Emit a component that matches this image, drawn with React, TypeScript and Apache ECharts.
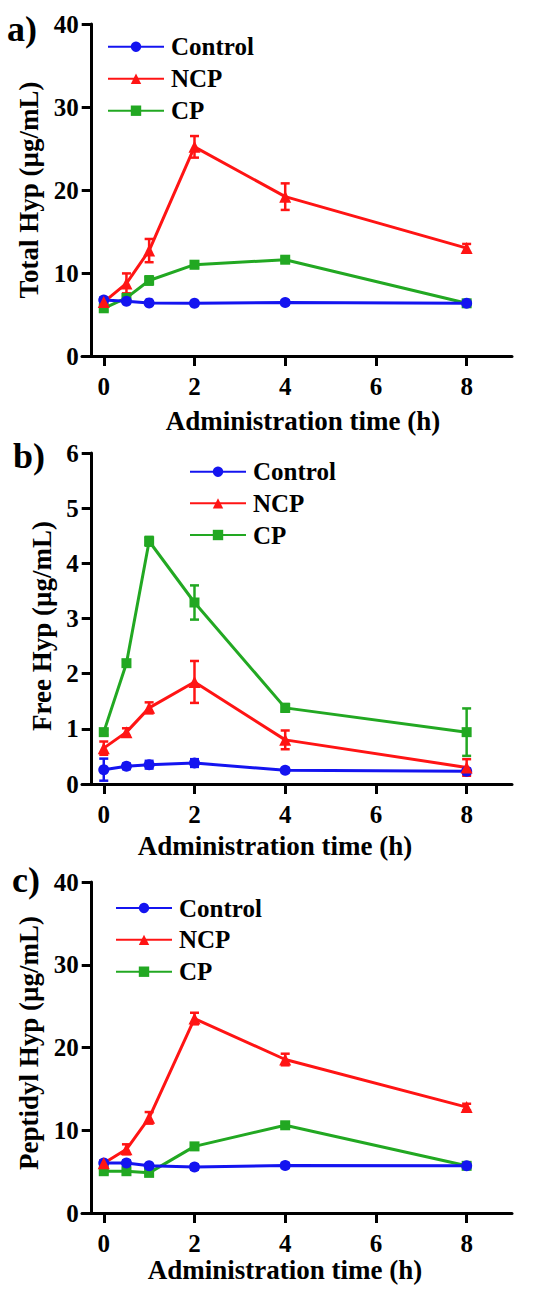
import React, { useEffect, useRef } from "react";
import * as echarts from "echarts";

const times = [0, 0.5, 1, 2, 4, 8];
const xTicks = [0, 2, 4, 6, 8];
const groupNames = ["Control", "NCP", "CP"];
const panelLabels = ["a)", "b)", "c)"];
const yTitles = ["Total Hyp (µg/mL)", "Free Hyp (µg/mL)", "Peptidyl Hyp (µg/mL)"];
const xTitle = "Administration time (h)";
const yMax = [40, 6, 40];
const yStep = [10, 1, 10];

// Total Hyp
const totalControl = [6.75, 6.6, 6.4, 6.35, 6.45, 6.35];
const totalControlErr = [0.3, 0.2, 0.2, 0.2, 0.25, 0.3];
const totalNCP = [6.5, 8.75, 12.7, 25.2, 19.2, 13.0];
const totalNCPErr = [0.3, 1.2, 1.4, 1.3, 1.6, 0.5];
const totalCP = [5.75, 7.0, 9.1, 11.0, 11.6, 6.35];
const totalCPErr = [0.3, 0.3, 0.5, 0.4, 0.3, 0.2];

// Free Hyp
const freeControl = [0.26, 0.32, 0.35, 0.38, 0.25, 0.23];
const freeControlErr = [0.2, 0.05, 0.07, 0.07, 0.04, 0.05];
const freeNCP = [0.65, 0.94, 1.38, 1.85, 0.8, 0.3];
const freeNCPErr = [0.12, 0.07, 0.1, 0.38, 0.17, 0.15];
const freeCP = [0.94, 2.19, 4.4, 3.29, 1.38, 0.94];
const freeCPErr = [0.05, 0.05, 0.08, 0.31, 0.07, 0.43];

// Peptidyl Hyp
const peptControl = [6.05, 6.05, 5.7, 5.55, 5.75, 5.7];
const peptControlErr = [0.3, 0.3, 0.2, 0.3, 0.3, 0.3];
const peptNCP = [6.0, 7.7, 11.5, 23.5, 18.55, 12.8];
const peptNCPErr = [0.3, 0.6, 0.7, 0.7, 0.7, 0.4];
const peptCP = [5.05, 5.05, 4.85, 8.05, 10.6, 5.7];
const peptCPErr = [0.3, 0.3, 0.3, 0.3, 0.3, 0.2];

const panelValues = [
  [totalControl, totalNCP, totalCP],
  [freeControl, freeNCP, freeCP],
  [peptControl, peptNCP, peptCP],
];
const panelErrors = [
  [totalControlErr, totalNCPErr, totalCPErr],
  [freeControlErr, freeNCPErr, freeCPErr],
  [peptControlErr, peptNCPErr, peptCPErr],
];

const colors = ["#1414f0", "#ff1414", "#22a822"];
const symbols = ["circle", "triangle", "rect"];
const symbolSizes = [11, 12, 10];
const FONT = "'Times New Roman', 'Liberation Serif', serif";

const gridTops = [24, 453, 882];
const gridHeights = [332, 331, 331];
const legendLeft = [107, 189, 115];
const legendTop = [34.2, 459.2, 895.5];
const legendGap = [7, 6.65, 6.85];
const xNameGap = [51.5, 48.4, 41.8];
const xNamePad = [[0, 0, 0, 12], [0, 44, 0, 0], [0, 24, 0, 0]];
const yNameGap = [35.5, 26.5, 38.5];
const yNamePad = [[0, 0, 0, 0], [0, 15, 0, 0], [0, 0, 0, 9]];
const labelPos = [
  [7, 11],
  [13, 438],
  [12, 862],
];

export default function App() {
  const ref = useRef<HTMLDivElement>(null);
  useEffect(() => {
    document.body.style.margin = "0";
    if (!ref.current) return;
    const chart = echarts.init(ref.current, null, { renderer: "svg" });

    const grids: any[] = [];
    const xAxes: any[] = [];
    const yAxes: any[] = [];
    const legends: any[] = [];
    const series: any[] = [];
    const graphics: any[] = [];

    for (let p = 0; p < 3; p++) {
      grids.push({ left: 82, top: gridTops[p], width: 430, height: gridHeights[p], containLabel: false });
      xAxes.push({
        type: "value",
        gridIndex: p,
        min: -0.48,
        max: 9,
        name: xTitle,
        nameLocation: "middle",
        nameGap: xNameGap[p],
        nameTextStyle: {
          fontFamily: FONT,
          fontWeight: "bold",
          fontSize: 27,
          color: "#000",
          padding: xNamePad[p],
        },
        axisLine: { show: true, onZero: false, lineStyle: { color: "#000", width: 3 } },
        axisTick: { show: true, length: 10, lineStyle: { color: "#000", width: 3 }, customValues: xTicks },
        axisLabel: {
          customValues: xTicks,
          margin: 18,
          fontFamily: FONT,
          fontWeight: "bold",
          fontSize: 25,
          color: "#000",
        },
        splitLine: { show: false },
      });
      yAxes.push({
        type: "value",
        gridIndex: p,
        min: 0,
        max: yMax[p],
        interval: yStep[p],
        offset: -9.7,
        name: yTitles[p],
        nameLocation: "middle",
        nameGap: yNameGap[p],
        nameRotate: 90,
        nameTextStyle: {
          fontFamily: FONT,
          fontWeight: "bold",
          fontSize: 27,
          color: "#000",
          padding: yNamePad[p],
        },
        axisLine: { show: true, onZero: false, lineStyle: { color: "#000", width: 3 } },
        axisTick: { show: true, length: 10, lineStyle: { color: "#000", width: 3 } },
        axisLabel: {
          margin: 13,
          fontFamily: FONT,
          fontWeight: "bold",
          fontSize: 25,
          color: "#000",
        },
        splitLine: { show: false },
      });
      legends.push({
        orient: "vertical",
        left: legendLeft[p],
        top: legendTop[p],
        padding: 0,
        itemWidth: 56,
        itemHeight: 13,
        itemGap: legendGap[p],
        selectedMode: false,
        data: groupNames,
        textStyle: {
          fontFamily: FONT,
          fontWeight: "bold",
          fontSize: 25,
          lineHeight: 25,
          color: "#000",
          padding: [0, 0, 0, 2],
        },
      });

      const order = [2, 0, 1];
      for (const g of order) {
        const vals = panelValues[p][g];
        const errs = panelErrors[p][g];
        const color = colors[g];
        series.push({
          type: "custom",
          name: groupNames[g] + " SD " + p,
          xAxisIndex: p,
          yAxisIndex: p,
          clip: false,
          z: 3,
          data: times.map((t, i) => [t, vals[i] - errs[i], vals[i] + errs[i]]),
          encode: { x: 0, y: [1, 2] },
          renderItem: (params: any, api: any) => {
            const x = api.value(0);
            const lo = api.coord([x, api.value(1)]);
            const hi = api.coord([x, api.value(2)]);
            const style = { stroke: color, lineWidth: 2.5 };
            return {
              type: "group",
              children: [
                { type: "line", shape: { x1: lo[0], y1: lo[1], x2: hi[0], y2: hi[1] }, style },
                { type: "line", shape: { x1: hi[0] - 4.5, y1: hi[1], x2: hi[0] + 4.5, y2: hi[1] }, style },
                { type: "line", shape: { x1: lo[0] - 4.5, y1: lo[1], x2: lo[0] + 4.5, y2: lo[1] }, style },
              ],
            };
          },
        });
        series.push({
          type: "line",
          name: groupNames[g],
          xAxisIndex: p,
          yAxisIndex: p,
          z: 3,
          data: times.map((t, i) => [t, vals[i]]),
          symbol: symbols[g],
          symbolSize: symbolSizes[g],
          showSymbol: true,
          color,
          itemStyle: { color },
          lineStyle: { color, width: 3 },
        });
      }

      graphics.push({
        type: "text",
        left: labelPos[p][0],
        top: labelPos[p][1],
        style: {
          text: panelLabels[p],
          fontFamily: FONT,
          fontWeight: "bold",
          fontSize: 36,
          fill: "#000",
        },
      });
    }

    chart.setOption({
      animation: false,
      backgroundColor: "#fff",
      grid: grids,
      xAxis: xAxes,
      yAxis: yAxes,
      legend: legends,
      series,
      graphic: graphics,
    });
    return () => chart.dispose();
  }, []);
  return <div ref={ref} style={{ width: 550, height: 1294 }} />;
}
